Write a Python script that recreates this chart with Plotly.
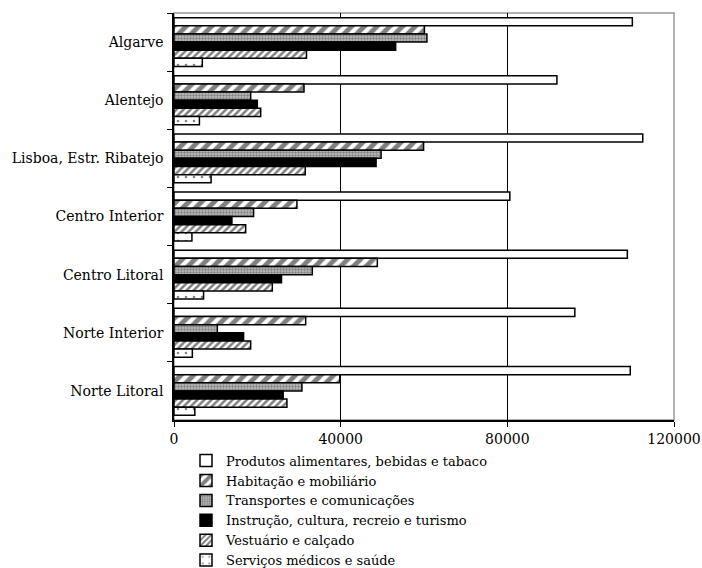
import plotly.graph_objects as go

regions = ["Algarve", "Alentejo", "Lisboa, Estr. Ribatejo", "Centro Interior",
           "Centro Litoral", "Norte Interior", "Norte Litoral"]
series_names = ["Produtos alimentares, bebidas e tabaco",
                "Habitação e mobiliário",
                "Transportes e comunicações",
                "Instrução, cultura, recreio e turismo",
                "Vestuário e calçado",
                "Serviços médicos e saúde"]
produtos = [110000, 91900, 112500, 80600, 108800, 96200, 109500]
habitacao = [60100, 31200, 59900, 29500, 48800, 31600, 39800]
transportes = [60700, 18400, 49700, 19100, 33200, 10400, 30700]
instrucao = [53200, 20000, 48500, 13900, 25800, 16700, 26200]
vestuario = [31800, 20800, 31500, 17200, 23600, 18400, 27100]
servicos = [6800, 6100, 8900, 4300, 7100, 4400, 5000]
x_ticks = [0, 40000, 80000, 120000]

values = [produtos, habitacao, transportes, instrucao, vestuario, servicos]
styles = [
    dict(color="white", pattern=dict(shape="")),
    dict(color="white", pattern=dict(shape="/", fgcolor="black", bgcolor="white", size=9, solidity=0.55)),
    dict(color="#999999", pattern=dict(shape=".", fgcolor="#444444", bgcolor="#c0c0c0", size=3, solidity=0.5)),
    dict(color="black", pattern=dict(shape="")),
    dict(color="white", pattern=dict(shape="/", fgcolor="black", bgcolor="white", size=5, solidity=0.5)),
    dict(color="white", pattern=dict(shape=".", fgcolor="black", bgcolor="white", size=8, solidity=0.08)),
]

FONT = "DejaVu Serif"
fig = go.Figure()
for name, vals, st in zip(series_names, values, styles):
    fig.add_trace(go.Bar(
        y=regions, x=vals, name=name, orientation="h",
        marker=dict(color=st["color"], pattern=st["pattern"],
                    line=dict(color="black", width=1.5)),
    ))

fig.update_layout(
    width=702, height=568,
    margin=dict(l=174, r=28, t=13, b=148, autoexpand=False),
    paper_bgcolor="white", plot_bgcolor="white",
    barmode="group", bargap=0.16, bargroupgap=0,
    font=dict(family=FONT, size=14, color="black"),
    showlegend=True,
    legend=dict(x=0.024, y=-0.063, xanchor="left", yanchor="top",
                traceorder="normal", font=dict(family=FONT, size=13),
                itemwidth=30, tracegroupgap=0, bgcolor="rgba(0,0,0,0)",
                borderwidth=0),
    shapes=[dict(type="rect", xref="paper", yref="paper", x0=0, x1=1, y0=0, y1=1,
                 line=dict(color="#999999", width=1.5), layer="below")],
)
fig.update_xaxes(range=[0, 120000], tickvals=x_ticks, ticktext=[str(v) for v in x_ticks],
                 showgrid=True, gridcolor="black", gridwidth=1, automargin=False,
                 showline=True, linecolor="black", linewidth=1.5,
                 ticks="outside", ticklen=5, tickcolor="black", zeroline=False)
fig.update_yaxes(autorange="reversed", tickson="boundaries", ticks="outside", ticklen=5,
                 tickcolor="black", showline=True, linecolor="black", linewidth=1.5,
                 showgrid=False, ticklabelstandoff=6, automargin=False)

fig.write_html("out.html", config={"displayModeBar": False},
               post_script="document.body.style.margin='0';document.body.style.overflow='hidden';")
